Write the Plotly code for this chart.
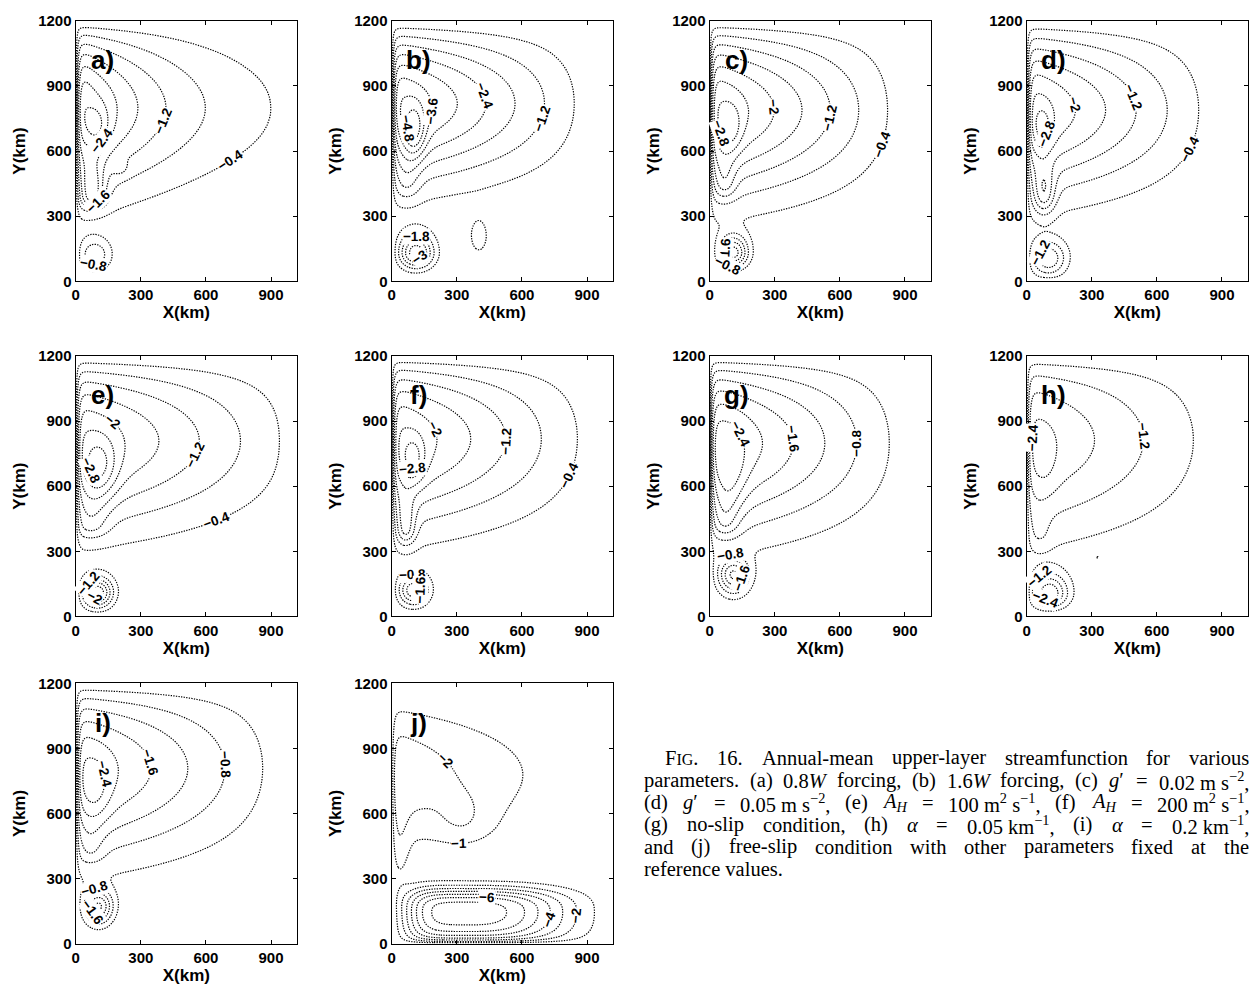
import re
import numpy as np
import plotly.graph_objects as go

W, H = 1249, 994

# ------------------------------------------------------------------ data
panel_tags = ["a)", "b)", "c)", "d)", "e)", "f)", "g)", "h)", "i)", "j)"]
x_tick_vals = [0, 300, 600, 900]
y_tick_vals = [0, 300, 600, 900, 1200]
x_extent = [0, 1020]
y_extent = [0, 1200]

contour_step = [0.4, 0.6, 0.4, 0.4, 0.4, 0.4, 0.4, 0.6, 0.4, 1.0]
contour_deepest = [-2.8, -4.8, -2.8, -2.8, -2.8, -2.8, -2.4, -2.4, -2.4, -7.0]

# contour labels: level, approximate x (km), approximate y (km)
contour_labels = [
    [(-1.2, 419, 726), (-0.4, 725, 545), (-2.4, 92, 673), (-1.6, 107, 364), (-0.8, 84, 78)],
    [(-3.6, 176, 781), (-2.4, 433, 857), (-1.2, 704, 751), (-4.8, 94, 706),
     (-1.8, 109, 201), (-3.0, 139, 80)],
    [(-2.0, 265, 800), (-1.2, 545, 755), (-0.4, 824, 619), (-2.8, 83, 694),
     (-1.6, 98, 136), (-0.8, 68, 45)],
    [(-2.0, 208, 815), (-1.2, 512, 853), (-0.4, 808, 574), (-2.8, 79, 687), (-1.2, 71, 128)],
    [(-2.0, 137, 858), (-1.2, 526, 761), (-0.4, 648, 437), (-2.8, 99, 685),
     (-1.2, 61, 151), (-2.0, 69, 68)],
    [(-2.0, 193, 864), (-1.2, 527, 811), (-0.4, 824, 646), (-2.8, 94, 691),
     (-0.8, 94, 186), (-1.6, 125, 118)],
    [(-2.4, 91, 815), (-1.6, 386, 815), (-0.8, 673, 800), (-0.8, 98, 287), (-1.6, 129, 181)],
    [(-2.4, 64, 823), (-1.2, 527, 830), (-1.2, 41, 211), (-2.4, 94, 91)],
    [(-1.6, 351, 836), (-0.8, 694, 821), (-2.4, 92, 776), (-0.8, 92, 248), (-1.6, 84, 151)],
    [(-2.0, 235, 830), (-1.0, 309, 491), (-6.0, 436, 158), (-4.0, 720, 113), (-2.0, 870, 128)],
]

# basin-scale gyre (km)
gyre_amp = [3.03, 4.41, 2.95, 2.66, 2.45, 2.53, 2.69, 2.66, 2.45, 3.12]
gyre_efold = [450, 1e4, 1e4, 1e4, 1e4, 1e4, 1e4, 1e4, 1e4, 1000]
gyre_zero_x = [3000, 981, 955, 940, 1150, 1026, 980, 1004, 1040, 1100]
gyre_centre_y = [800, 820, 790, 790, 810, 820, 800, 815, 810, 780]
gyre_halfwidth_y = [370, 330, 370, 360, 378, 380, 385, 420, 385, 300]
south_layer_km = [10, 10, 10, 10, 10, 10, 10, 10, 10, 20]

# eddies: amplitude, x, y, x-scale west, x-scale east, y-scale south, y-scale north
eddies = [
    [(0.65, 100, 710, 55, 55, 100, 100), (1.5, 75, 390, 60, 60, 55, 150),
     (0.35, 205, 522, 35, 35, 35, 35), (1.05, 88, 120, 74, 74, 74, 74)],
    [(1.8, 105, 690, 50, 50, 120, 120), (0.8, 70, 450, 60, 60, 80, 150),
     (3.4, 112, 130, 80, 80, 70, 90), (0.72, 402, 200, 60, 60, 110, 110)],
    [(0.65, 98, 700, 50, 50, 110, 110), (0.7, 70, 450, 50, 50, 70, 130),
     (2.1, 110, 130, 65, 65, 65, 80)],
    [(0.75, 75, 700, 45, 45, 100, 100), (1.2, 80, 400, 50, 50, 90, 130),
     (1.5, 100, 105, 83, 83, 83, 83)],
    [(1.0, 110, 680, 80, 80, 140, 140), (0.6, 70, 420, 80, 80, 60, 150),
     (2.25, 100, 110, 70, 70, 70, 70)],
    [(0.9, 100, 720, 55, 55, 110, 110), (1.1, 65, 400, 45, 45, 70, 150),
     (1.85, 100, 120, 70, 70, 70, 70)],
    [(0.55, 100, 650, 70, 70, 200, 200), (0.6, 70, 430, 60, 60, 60, 140),
     (1.9, 110, 190, 70, 70, 85, 75)],
    [(0.4, 85, 700, 60, 60, 160, 160), (0.5, 60, 380, 50, 50, 60, 120),
     (0.3, 326, 272, 15, 15, 15, 15), (2.8, 105, 105, 85, 85, 65, 90)],
    [(0.55, 90, 700, 70, 70, 150, 150), (0.4, 70, 430, 60, 60, 60, 130),
     (1.95, 105, 170, 65, 65, 80, 75)],
    [(7.6, 370, 140, 304, 430, 200, 116, 5, 2.5, 2, 3), (0.9, 35, 450, 45, 45, 200, 200),
     (1.05, 330, 560, 130, 140, 100, 140)],
]

caption_lines = [
    ["F<span style='font-size:16px'>IG</span>.", "16.", "Annual-mean", "upper-layer",
     "streamfunction", "for", "various"],
    ["parameters.", "(a)", "0.8<i>W</i>", "forcing,", "(b)", "1.6<i>W</i>", "forcing,",
     "(c)", "<i>g</i>′", "=", "0.02 m s<sup>−2</sup>,"],
    ["(d)", "<i>g</i>′", "=", "0.05 m s<sup>−2</sup>,", "(e)", "<i>A<sub>H</sub></i>", "=",
     "100 m<sup>2</sup> s<sup>−1</sup>,", "(f)", "<i>A<sub>H</sub></i>", "=",
     "200 m<sup>2</sup> s<sup>−1</sup>,"],
    ["(g)", "no-slip", "condition,", "(h)", "<i>α</i>", "=", "0.05 km<sup>−1</sup>,",
     "(i)", "<i>α</i>", "=", "0.2 km<sup>−1</sup>,"],
    ["and", "(j)", "free-slip", "condition", "with", "other", "parameters", "fixed", "at", "the"],
    ["reference values."],
]

# ------------------------------------------------------------------ field construction
xs = np.unique(np.concatenate([np.arange(0, 40, 2.0), np.arange(40, 1020, 8.0), [1020.0]]))
ys = np.unique(np.concatenate([np.arange(0, 40, 2.5), np.arange(40, 1160, 8.0),
                               np.arange(1160, 1200.01, 2.5)]))
XX, YY = np.meshgrid(xs, ys)


def side_shape(d, s_neg, s_pos, n_neg, n_pos):
    return np.where(d < 0, np.exp(-np.abs(d / s_neg) ** n_neg),
                    np.exp(-np.abs(d / s_pos) ** n_pos))


def build_field(k):
    L = gyre_efold[k]
    xe = gyre_zero_x[k]
    fx = (np.exp(-XX / L) - np.exp(-xe / L)) / (1 - np.exp(-xe / L))
    fx = np.clip(fx, 0, None)
    psi = gyre_amp[k] * fx * np.exp(-((YY - gyre_centre_y[k]) / gyre_halfwidth_y[k]) ** 2)
    for e in eddies[k]:
        amp, xc, yc, sxw, sxe, sys_, syn = e[:7]
        ex = e[7:] if len(e) > 7 else (2, 2, 2, 2)
        psi = psi + amp * side_shape(XX - xc, sxw, sxe, ex[0], ex[1]) * \
            side_shape(YY - yc, sys_, syn, ex[2], ex[3])
    walls = (1 - np.exp(-XX / 12.0)) * (1 - np.exp(-(x_extent[1] - XX) / 30.0)) * \
        (1 - np.exp(-(y_extent[1] - YY) / 60.0)) * (1 - np.exp(-YY / south_layer_km[k]))
    return -(psi * walls)


# ------------------------------------------------------------------ layout geometry (px)
col_left = [72, 389, 708, 1026]
row_top = [12, 353, 686]
pw, ph = 222, 265
PXKM = pw / (x_extent[1] - x_extent[0])
PYKM = ph / (y_extent[1] - y_extent[0])


def snap_label(z, level, hx, hy):
    zz = z - level
    a, b = zz[:, :-1], zz[:, 1:]
    iy, ix = np.nonzero(a * b < 0)
    t = a[iy, ix] / (a[iy, ix] - b[iy, ix])
    px1 = xs[ix] + t * (xs[ix + 1] - xs[ix])
    py1 = ys[iy]
    a, b = zz[:-1, :], zz[1:, :]
    iy2, ix2 = np.nonzero(a * b < 0)
    t2 = a[iy2, ix2] / (a[iy2, ix2] - b[iy2, ix2])
    px2 = xs[ix2]
    py2 = ys[iy2] + t2 * (ys[iy2 + 1] - ys[iy2])
    PX = np.concatenate([px1, px2])
    PY = np.concatenate([py1, py2])
    if PX.size == 0:
        return None
    d = ((PX - hx) * PXKM) ** 2 + ((PY - hy) * PYKM) ** 2
    j = int(np.argmin(d))
    gx = np.gradient(z, xs, axis=1)
    gy = np.gradient(z, ys, axis=0)
    jx = int(np.argmin(np.abs(xs - PX[j])))
    jy = int(np.argmin(np.abs(ys - PY[j])))
    gpx = gx[jy, jx] / PXKM
    gpy = gy[jy, jx] / PYKM
    tr, tu = -gpy, gpx          # tangent (right, up) on screen
    ang = np.degrees(np.arctan2(-tu, tr))
    if ang > 90:
        ang -= 180
    if ang < -90:
        ang += 180
    return PX[j], PY[j], ang


fig = go.Figure()
LINE = dict(color="#000000", width=1.2, dash="1.3px,1.3px")
LABFONT = dict(family="Liberation Sans", size=13.5, color="black", weight="bold")

annotations = []
for k in range(10):
    z = np.round(build_field(k), 3)
    ax = "" if k == 0 else str(k + 1)
    step = contour_step[k]
    fig.add_trace(go.Contour(
        x=xs, y=ys, z=z, showscale=False, hoverinfo="skip", autocontour=False,
        contours=dict(start=contour_deepest[k], end=-step * 0.999, size=step,
                      coloring="none", showlabels=False),
        line=LINE, xaxis="x" + ax, yaxis="y" + ax))
    for lev, hx, hy in contour_labels[k]:
        res = snap_label(z, lev, hx, hy)
        if res is None:
            continue
        lx, ly, ang = res
        txt = "−" + ("%g" % abs(lev))
        annotations.append(dict(text=txt, x=lx, y=ly, xref="x" + ax, yref="y" + ax,
                                showarrow=False, textangle=ang, bgcolor="white",
                                borderpad=0, font=LABFONT))

axis_common = dict(showline=True, linecolor="black", linewidth=1.4, mirror="ticks",
                   ticks="inside", ticklen=4, tickwidth=1, tickcolor="black",
                   showgrid=False, zeroline=False,
                   tickfont=dict(family="Liberation Sans", size=15, color="black", weight="bold"))
title_font = dict(family="Liberation Sans", size=17, color="black", weight="bold")

layout = dict(width=W, height=H, margin=dict(l=0, r=0, t=0, b=0),
              paper_bgcolor="white", plot_bgcolor="white", showlegend=False)
for k in range(10):
    r, c = divmod(k, 4)
    ax = "" if k == 0 else str(k + 1)
    x0 = col_left[c] / W
    x1 = (col_left[c] + pw) / W
    y1 = 1 - row_top[r] / H
    y0 = 1 - (row_top[r] + ph) / H
    layout["xaxis" + ax] = dict(axis_common, domain=[x0, x1], range=x_extent,
                                tickvals=x_tick_vals, anchor="y" + ax,
                                title=dict(text="X(km)", font=title_font, standoff=0))
    layout["yaxis" + ax] = dict(axis_common, domain=[y0, y1], range=y_extent,
                                tickvals=y_tick_vals, anchor="x" + ax,
                                title=dict(text="Y(km)", font=title_font, standoff=8))
    annotations.append(dict(text=panel_tags[k], x=124, y=1018, xref="x" + ax, yref="y" + ax,
                            showarrow=False, font=dict(family="Liberation Sans", size=26,
                                                       color="black", weight="bold")))

# ------------------------------------------------------------------ caption (justified)
CW = {' ': 250, 'a': 444, 'b': 500, 'c': 444, 'd': 500, 'e': 444, 'f': 333, 'g': 500,
      'h': 500, 'i': 278, 'j': 278, 'k': 500, 'l': 278, 'm': 778, 'n': 500, 'o': 500,
      'p': 500, 'q': 500, 'r': 333, 's': 389, 't': 278, 'u': 500, 'v': 500, 'w': 722,
      'x': 500, 'y': 500, 'z': 444, 'A': 722, 'F': 556, 'G': 722, 'H': 722, 'I': 333,
      'W': 833, '(': 333, ')': 333, '.': 250, ',': 250, '-': 333, '=': 564, '′': 300,
      '−': 564, 'α': 520}
CAP_SIZE = 20.5


def est_width(markup, size):
    factor, stack, w = 1.0, [], 0.0
    for part in re.split(r'(<[^>]+>)', markup):
        if not part:
            continue
        if part.startswith('<'):
            if part.startswith('</'):
                factor = stack.pop() if stack else 1.0
            else:
                tag = part.strip('<>').split()[0]
                stack.append(factor)
                if tag in ('sup', 'sub'):
                    factor *= 0.7
                elif tag == 'span':
                    factor *= 0.79
            continue
        for ch in part:
            w += CW.get(ch, 500) / 1000.0 * size * factor
    return w


cap_left = [662, 641, 641, 641, 641, 641]
cap_right = 1248
cap_y = [762, 785, 807.5, 830, 852.5, 875]
for li, words in enumerate(caption_lines):
    widths = [est_width(wd, CAP_SIZE) for wd in words]
    if len(words) > 1 and li < len(caption_lines) - 1:
        gap = (cap_right - cap_left[li] - sum(widths)) / (len(words) - 1)
    else:
        gap = 0
    xpos = cap_left[li]
    for wd, wdt in zip(words, widths):
        annotations.append(dict(text=wd, x=xpos / W, y=1 - cap_y[li] / H, xref="paper",
                                yref="paper", xanchor="left", yanchor="middle",
                                showarrow=False, borderpad=0,
                                font=dict(family="Liberation Serif", size=CAP_SIZE,
                                          color="black")))
        xpos += wdt + gap

layout["annotations"] = annotations
fig.update_layout(**layout)
fig.write_html("out.html")
